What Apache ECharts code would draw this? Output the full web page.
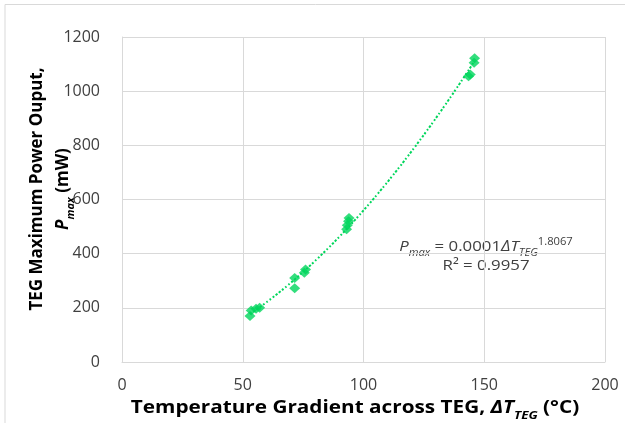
<!DOCTYPE html>
<html>
<head>
<meta charset="utf-8">
<script src="https://cdn.jsdelivr.net/npm/echarts@6/dist/echarts.min.js"></script>
<style>
  html, body { margin: 0; padding: 0; background: #fff; }
  #chart { width: 625px; height: 423px; }
</style>
</head>
<body>
<div id="chart"></div>
<script>
// measured points (ΔT in °C, Pmax in mW)
const deltaT = [53, 53.5, 55.5, 57, 71.5, 71.5, 75.5, 76, 93, 93.3, 93.8, 94, 143.5, 144.2, 145.8, 146]
const pmax = [170, 190, 197, 200, 272, 310, 330, 342, 490, 505, 520, 532, 1055, 1062, 1105, 1122]
const xTicks = [0, 50, 100, 150, 200]
const yTicks = [0, 200, 400, 600, 800, 1000, 1200]

const green = '#00D65C'
const font = 'Open Sans'

// power-law trendline fitted on the points (log-log least squares)
const fitPower = (xs, ys) => {
  const lx = xs.map(Math.log), ly = ys.map(Math.log)
  const n = xs.length
  const mx = lx.reduce((a, b) => a + b, 0) / n
  const my = ly.reduce((a, b) => a + b, 0) / n
  let sxy = 0, sxx = 0
  lx.forEach((v, i) => { sxy += (v - mx) * (ly[i] - my); sxx += (v - mx) * (v - mx) })
  const b = sxy / sxx
  const a = Math.exp(my - b * mx)
  return (x) => a * Math.pow(x, b)
}
const trend = fitPower(deltaT, pmax)
const tMin = Math.min(...deltaT), tMax = Math.max(...deltaT)
const trendData = []
for (let i = 0; i <= 60; i++) {
  const t = tMin + (tMax - tMin) * i / 60
  trendData.push([t, trend(t)])
}

const chart = echarts.init(document.getElementById('chart'))
const gridLine = { lineStyle: { color: '#D9D9D9', width: 1 } }

chart.setOption({
  animation: false,
  textStyle: { fontFamily: font },
  grid: { left: 122, top: 37, right: 20, bottom: 61 },
  xAxis: {
    type: 'value', min: xTicks[0], max: xTicks[xTicks.length - 1], interval: 50,
    axisLine: { show: true, lineStyle: { color: '#D9D9D9' } },
    axisTick: { show: false },
    splitLine: gridLine,
    axisLabel: { color: '#404040', fontSize: 16, margin: 15, fontFamily: font, formatter: (v) => String(v) }
  },
  yAxis: {
    type: 'value', min: yTicks[0], max: yTicks[yTicks.length - 1], interval: 200,
    axisLine: { show: true, lineStyle: { color: '#D9D9D9' } },
    axisTick: { show: false },
    splitLine: gridLine,
    axisLabel: { color: '#404040', fontSize: 16, margin: 22, fontFamily: font, formatter: (v) => String(v) }
  },
  series: [
    {
      type: 'line', data: trendData, symbol: 'none', smooth: true, z: 1,
      lineStyle: { color: green, width: 2, type: 'dotted' }
    },
    {
      type: 'scatter', data: deltaT.map((t, i) => [t, pmax[i]]),
      symbol: 'diamond', symbolSize: [11, 10], z: 2,
      itemStyle: { color: green }
    }
  ],
  graphic: [
    // outer frame
    { type: 'polyline', shape: { points: [[5, 430], [5, 4.5], [630, 4.5]] },
      style: { stroke: '#D9D9D9', fill: null, lineWidth: 1 } },
    // y-axis title
    {
      type: 'text', x: 47, y: 189, rotation: Math.PI / 2,
      style: {
        text: 'TEG Maximum Power Ouput,\n{i|P}{sub|max}{b| (mW)}',
        align: 'center', verticalAlign: 'middle',
        fontFamily: font, fontSize: 17, fontWeight: 'bold', fill: '#000', lineHeight: 30,
        rich: {
          i: { fontFamily: font, fontSize: 17, fontWeight: 'bold', fontStyle: 'italic', lineHeight: 20, verticalAlign: 'bottom', fill: '#000' },
          sub: { fontFamily: font, fontSize: 11, fontWeight: 'bold', fontStyle: 'italic', lineHeight: 11, verticalAlign: 'bottom', padding: [0, 0, -4, 0], fill: '#000' },
          b: { fontFamily: font, fontSize: 17, fontWeight: 'bold', lineHeight: 20, verticalAlign: 'bottom', fill: '#000' }
        }
      }
    },
    // x-axis title
    {
      type: 'text', x: 355, y: 407, scaleX: 1.22,
      style: {
        text: '{b|Temperature Gradient across TEG, }{i|ΔT}{sub|TEG}{b| (°C)}',
        align: 'center', verticalAlign: 'middle',
        rich: {
          b: { fontFamily: font, fontSize: 17, fontWeight: 'bold', lineHeight: 20, verticalAlign: 'bottom', fill: '#000' },
          i: { fontFamily: font, fontSize: 17, fontWeight: 'bold', fontStyle: 'italic', lineHeight: 20, verticalAlign: 'bottom', fill: '#000' },
          sub: { fontFamily: font, fontSize: 11, fontWeight: 'bold', fontStyle: 'italic', lineHeight: 11, verticalAlign: 'bottom', padding: [0, 0, -4, 0], fill: '#000' }
        }
      }
    },
    // trendline equation
    {
      type: 'text', x: 486, y: 254, scaleX: 1.12,
      style: {
        text: '{i|P}{sub|max}{n| = 0.0001}{i|ΔT}{sub|TEG}{sup|1.8067}\n{n|R² = 0.9957}',
        align: 'center', verticalAlign: 'middle', lineHeight: 19,
        rich: {
          n: { fontFamily: font, fontSize: 15, lineHeight: 19, verticalAlign: 'bottom', fill: '#404040' },
          i: { fontFamily: font, fontSize: 15, fontStyle: 'italic', lineHeight: 19, verticalAlign: 'bottom', fill: '#404040' },
          sub: { fontFamily: font, fontSize: 10, fontStyle: 'italic', lineHeight: 10, verticalAlign: 'bottom', padding: [0, 0, -4, 0], fill: '#404040' },
          sup: { fontFamily: font, fontSize: 10, lineHeight: 10, verticalAlign: 'top', padding: [2, 0, 0, 0], fill: '#404040' }
        }
      }
    }
  ]
})
</script>
</body>
</html>
